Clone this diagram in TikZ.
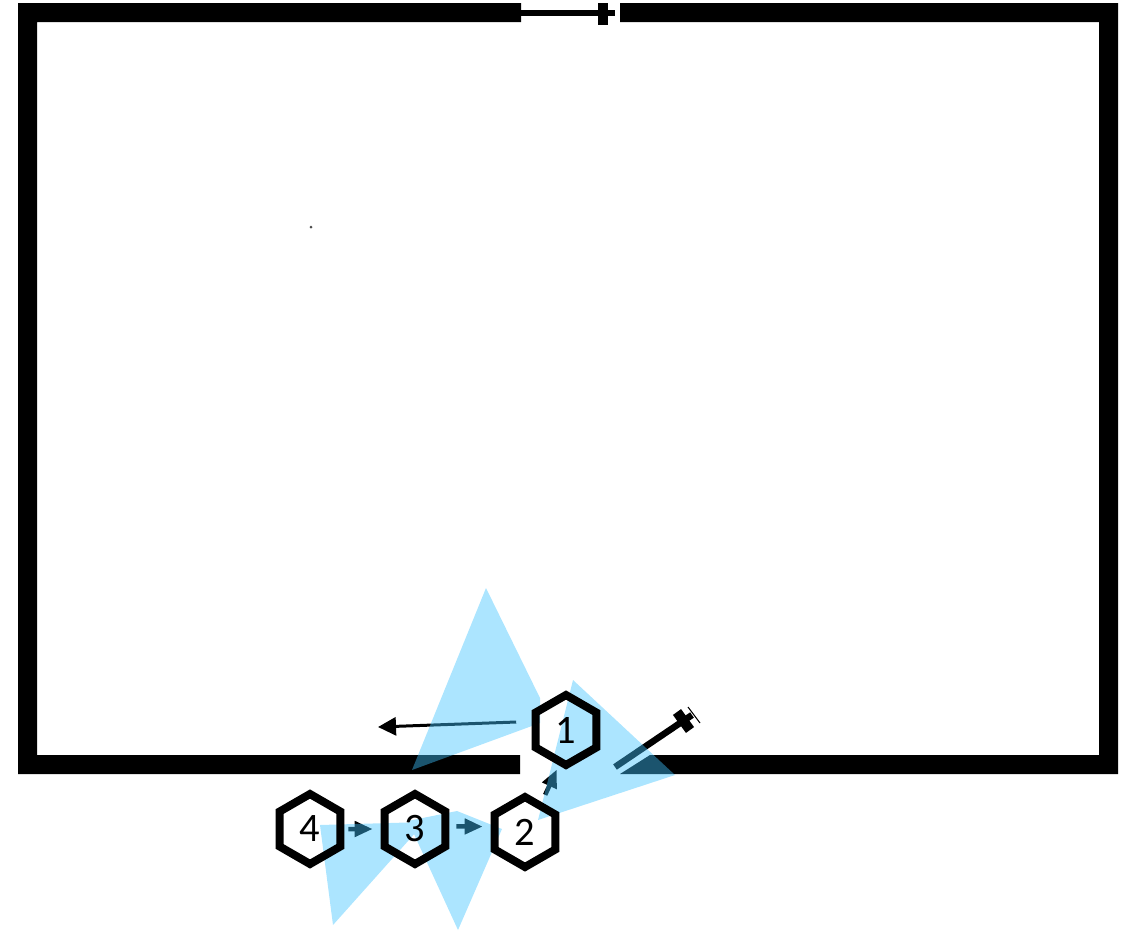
\documentclass[tikz,border=0pt]{standalone}
\usepackage{fontspec}
\setmainfont{Carlito}
\usetikzlibrary{shapes.geometric}
\usetikzlibrary{arrows.meta}
\usetikzlibrary{backgrounds}
\definecolor{beam colour}{RGB}{63,195,255}
\tikzstyle{robot}=[draw, regular polygon, regular polygon sides=6, shape border rotate=30, minimum size=1.4cm, inner sep=0, outer sep=0, line width=0.16cm, font=\fontsize{23}{24}\selectfont]
\tikzstyle{wall}=[fill=black]
\tikzstyle{beam}=[fill=beam colour, fill opacity=0.43]
\tikzstyle{move}=[line width=0.09cm, -{Triangle[length=0.36cm, width=0.3cm]}]
\tikzstyle{exit}=[line width=0.06cm, -{Triangle[length=0.36cm, width=0.36cm]}]
\tikzstyle{door}=[line width=0.13cm]
\tikzstyle{door bar}=[line width=0.2cm]

\begin{document}
\begin{tikzpicture}[x=0.02cm, y=-0.02cm]
    \useasboundingbox (0, 0) rectangle (1127, 931);

    \node[robot] (robot_1) at (566, 730) {1};
    \node[robot] (robot_2) at (525, 832) {2};
    \node[robot] (robot_3) at (415, 829) {3};
    \node[robot] (robot_4) at (310, 829) {4};

    \coordinate (exit_end) at (378, 727);
    \coordinate (top_hinge) at (521, 13);
    \coordinate (top_end) at (615, 13);
    \coordinate (top_bar_a) at (603, 3);
    \coordinate (top_bar_b) at (603, 25);
    \coordinate (low_hinge) at (615, 767);
    \coordinate (low_end) at (692, 715);
    \coordinate (low_bar_a) at (677, 712);
    \coordinate (low_bar_b) at (690, 730);
    \coordinate (low_tick_a) at (688, 707);
    \coordinate (low_tick_b) at (700, 723);

    \begin{scope}[on background layer]
      \fill[wall] (521, 3) -- (18, 3) -- (18, 774) -- (520, 774) -- (520, 755)
        -- (37, 755) -- (37, 22) -- (521, 22) -- cycle;
      \fill[wall] (620, 3) -- (1118, 3) -- (1118, 774) -- (620, 774) -- (650, 755)
        -- (1099, 755) -- (1099, 22) -- (620, 22) -- cycle;
      \fill[black!70] (311, 227) circle (1.5);

      \draw[door] (top_hinge) -- (top_end);
      \draw[door bar] (top_bar_a) -- (top_bar_b);
      \draw[door] (low_hinge) -- (low_end);
      \draw[door bar] (low_bar_a) -- (low_bar_b);
      \draw[semithick] (low_tick_a) -- (low_tick_b);

      \draw[exit, shorten <=0.39cm] (robot_1.164) -- (exit_end);
      \draw[move, shorten <=0.24cm, shorten >=0.17cm] (robot_2.60) -- (robot_1.-100);
      \draw[move, shorten <=0.22cm, shorten >=0.24cm] (robot_3.5) -- (robot_2.170);
      \draw[move, shorten <=0.16cm, shorten >=0.24cm] (robot_4) -- (robot_3);

      \fill[beam] (486, 588) -- (412, 770) -- (540, 723) -- (540, 698) -- cycle;
      \fill[beam] (573, 680) -- (675, 775) -- (538, 820) -- cycle;
      \fill[beam] (320, 825) -- (333, 925) -- (425, 822) -- cycle
        (458, 930) -- (502, 829) -- (457, 811) -- (408, 821) -- cycle;
    \end{scope}
\end{tikzpicture}
\end{document}
